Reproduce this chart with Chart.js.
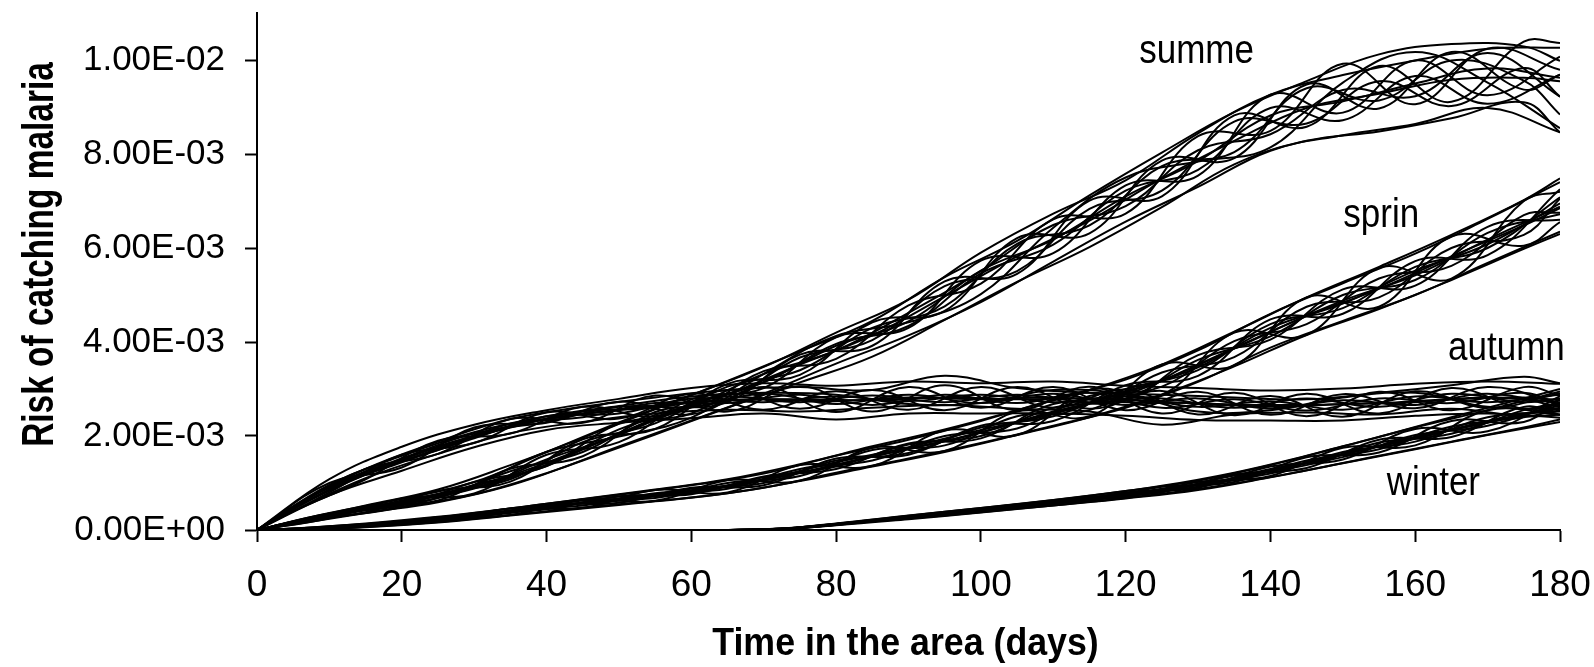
<!DOCTYPE html>
<html>
<head>
<meta charset="utf-8">
<title>Risk of catching malaria by season of arrival</title>
<script src="https://cdn.jsdelivr.net/npm/chart.js@4.4.1/dist/chart.umd.min.js"></script>
<style>
  html, body { margin: 0; padding: 0; background: #fff; }
  #wrap { width: 1594px; height: 667px; }
</style>
</head>
<body>
<div id="wrap"><canvas id="risk" width="1594" height="667"></canvas></div>
<script>
// Time axis samples (days). Half of the simulated runs are sampled on
// DAYS_A, the other half on DAYS_B (offset by five days).
const DAYS_A = [0,10,20,30,40,50,60,70,80,90,100,110,120,130,140,150,160,170,180];
const DAYS_B = [0,5,15,25,35,45,55,65,75,85,95,105,115,125,135,145,155,165,175,180];

// Axis ticks. Risk values are stored in thousandths (x 1E-03).
const X_TICKS = [0,20,40,60,80,100,120,140,160,180];
const Y_TICKS = [0,2,4,6,8,10];

// Cumulative risk runs (x 1E-03), arrival in summer
const SUMMER_A = [
  [0,.35,.52,1.02,1.36,2.26,2.48,3.38,3.64,4.78,5.24,6.61,6.73,8.38,8.49,9.92,9.06,10.24,9.79],
  [0,.26,.49,.96,1.66,1.99,2.39,3.32,4.13,4.42,5.02,6.43,7.50,7.84,8.14,9.52,10.17,9.52,8.55],
  [0,.31,.60,.88,1.50,2.02,2.66,3.15,3.92,4.44,5.52,6.18,7.10,7.85,8.82,9.12,9.50,9.82,9.62],
  [0,.36,.66,1.02,1.66,2.29,2.87,3.47,4.20,4.90,5.90,6.73,7.44,8.44,9.26,9.68,9.99,10.24,10.26],
  [0,.24,.49,.76,1.21,1.78,2.33,2.90,3.54,4.14,4.85,5.71,6.56,7.30,8.07,8.40,8.64,8.98,8.46],
  [0,.25,.67,.78,1.60,1.87,2.78,3.02,4.10,4.30,5.73,5.89,7.33,7.54,9.26,8.88,9.99,9.25,10.07],
  [0,.32,.55,.96,1.36,2.14,2.63,3.32,3.82,4.62,5.51,6.49,6.89,8.08,8.42,9.36,9.23,10.15,9.22],
  [0,.30,.63,.90,1.39,2.05,2.69,3.14,3.96,4.34,5.46,6.07,7.22,7.66,8.98,8.72,9.66,9.07,9.69]
];
const SUMMER_B = [
  [0,.17,.38,.83,1.03,1.93,2.15,3.11,3.30,4.42,4.66,6.21,6.31,7.86,7.91,9.48,8.97,10.17,9.37,9.69],
  [0,.14,.50,.63,1.30,1.57,2.51,2.72,3.73,3.92,5.29,5.45,7.01,7.10,8.82,8.58,9.87,9.11,10.39,10.36],
  [0,.15,.45,.73,1.16,1.73,2.35,2.88,3.52,4.14,4.97,5.82,6.58,7.48,8.28,8.98,9.28,9.58,9.62,9.55],
  [0,.13,.37,.59,.95,1.48,2.03,2.60,3.14,3.69,4.47,5.28,6.02,6.87,7.78,8.28,8.48,8.76,9.10,8.46],
  [0,.18,.52,.86,1.38,1.96,2.57,3.17,3.80,4.45,5.38,6.15,7.12,8.03,8.89,9.55,10.12,10.34,10.29,9.98],
  [0,.15,.48,.68,1.25,1.66,2.45,2.78,3.67,4.04,5.19,5.51,6.83,7.22,8.69,8.65,9.55,9.02,9.83,9.22],
  [0,.16,.42,.77,1.08,1.87,2.27,3.05,3.40,4.30,4.76,6.09,6.48,7.74,8.04,9.40,9.14,9.99,9.56,8.84]
];

// Arrival in spring
const SPRING_A = [
  [0,.06,.13,.34,.44,.72,.76,1.14,1.30,1.84,1.95,2.68,2.75,3.72,4.05,5.12,5.20,6.45,6.60],
  [0,.04,.18,.26,.54,.58,.90,.95,1.52,1.60,2.22,2.32,3.08,3.28,4.48,4.60,5.72,5.85,7.25],
  [0,.05,.15,.30,.48,.66,.81,1.06,1.39,1.73,2.07,2.52,2.88,3.52,4.22,4.88,5.42,6.18,6.88],
  [0,.07,.19,.36,.56,.75,.95,1.20,1.58,1.92,2.32,2.78,3.20,3.82,4.60,5.25,5.88,6.62,7.40],
  [0,.03,.11,.24,.40,.55,.69,.90,1.22,1.52,1.85,2.22,2.60,3.15,3.88,4.45,5.00,5.68,6.35],
  [0,.05,.16,.33,.46,.71,.78,1.12,1.35,1.82,2.00,2.60,2.80,3.62,4.12,5.00,5.32,6.32,6.72],
  [0,.05,.14,.28,.52,.62,.88,1.00,1.48,1.64,2.18,2.42,3.00,3.40,4.38,4.72,5.60,6.00,7.08],
  [0,.05,.16,.31,.50,.67,.84,1.08,1.44,1.76,2.13,2.47,2.95,3.46,4.30,4.82,5.52,6.08,6.95]
];
const SPRING_B = [
  [0,.03,.13,.18,.46,.47,.85,.80,1.38,1.36,2.12,2.02,2.98,2.88,4.20,4.15,5.58,5.35,7.00,7.20],
  [0,.01,.07,.27,.32,.65,.62,1.06,1.05,1.75,1.68,2.52,2.42,3.52,3.50,4.95,4.75,6.25,6.05,6.55],
  [0,.02,.10,.22,.39,.57,.72,.94,1.21,1.57,1.89,2.29,2.71,3.18,3.86,4.55,5.13,5.82,6.48,6.85],
  [0,.03,.14,.28,.46,.66,.86,1.08,1.40,1.78,2.14,2.55,2.98,3.52,4.22,4.95,5.60,6.28,7.02,7.48],
  [0,.01,.06,.16,.31,.46,.61,.78,1.04,1.35,1.66,2.02,2.40,2.88,3.48,4.15,4.70,5.32,5.98,6.30],
  [0,.02,.11,.25,.36,.63,.68,1.00,1.15,1.70,1.80,2.42,2.55,3.35,3.68,4.75,4.95,6.00,6.28,7.05],
  [0,.02,.09,.20,.42,.52,.78,.88,1.30,1.48,2.00,2.16,2.85,3.05,4.02,4.38,5.35,5.62,6.70,6.75]
];

// Arrival in autumn
const AUTUMN_A = [
  [0,1.00,1.33,2.18,2.28,2.73,2.46,3.04,2.51,3.04,2.60,3.04,2.55,2.94,2.45,2.89,2.59,3.04,2.67],
  [0,.80,1.60,1.85,2.50,2.37,2.90,2.56,2.95,2.56,3.04,2.60,2.99,2.46,2.85,2.41,2.95,2.60,2.91],
  [0,.90,1.46,1.98,2.36,2.56,2.72,2.78,2.74,2.82,2.78,2.82,2.72,2.70,2.62,2.68,2.72,2.82,2.72],
  [0,1.08,1.77,2.24,2.55,2.79,3.02,3.12,3.07,3.16,3.12,3.16,3.07,3.02,2.97,3.01,3.11,3.16,3.11],
  [0,.74,1.26,1.76,2.13,2.28,2.38,2.48,2.35,2.48,2.48,2.48,2.43,2.34,2.33,2.33,2.43,2.48,2.39],
  [0,.92,1.52,2.05,2.30,2.62,2.62,2.90,2.68,2.88,2.70,2.90,2.66,2.80,2.58,2.76,2.66,2.90,2.62],
  [0,.86,1.44,1.95,2.42,2.48,2.80,2.72,2.84,2.74,2.88,2.72,2.84,2.62,2.74,2.56,2.84,2.72,2.88],
  [0,.96,1.58,2.08,2.42,2.64,2.84,2.92,2.88,2.68,2.70,2.98,2.88,2.52,2.55,2.82,2.92,2.62,2.58]
];
const AUTUMN_B = [
  [0,.50,1.30,1.62,2.36,2.28,2.86,2.52,3.06,2.52,3.08,2.55,3.05,2.48,2.92,2.42,2.94,2.55,3.04,2.86],
  [0,.40,1.08,1.90,2.05,2.62,2.42,2.98,2.58,2.98,2.55,3.04,2.58,2.96,2.44,2.90,2.48,3.02,2.58,2.70],
  [0,.45,1.20,1.76,2.22,2.46,2.63,2.76,2.78,2.76,2.82,2.78,2.80,2.73,2.67,2.66,2.70,2.78,2.82,2.76],
  [0,.50,1.30,1.88,2.36,2.62,2.82,2.98,3.04,2.98,3.28,3.02,2.92,2.88,2.82,2.78,2.92,3.08,3.26,3.12],
  [0,.40,1.10,1.62,2.06,2.30,2.48,2.56,2.52,2.60,2.66,2.58,2.52,2.24,2.46,2.50,2.46,2.58,2.42,2.46],
  [0,.46,1.18,1.78,2.18,2.52,2.60,2.84,2.72,2.86,2.72,2.88,2.72,2.80,2.60,2.80,2.62,2.90,2.72,2.80],
  [0,.44,1.24,1.70,2.26,2.40,2.70,2.70,2.88,2.66,2.88,2.70,2.92,2.60,2.78,2.54,2.80,2.70,2.92,2.64]
];

// Arrival in winter
const WINTER_A = [
  [0,0,0,0,0,0,0,0,.13,.25,.45,.55,.80,.90,1.35,1.50,2.15,2.10,2.85],
  [0,0,0,0,0,0,0,0,.11,.29,.40,.62,.70,1.02,1.15,1.75,1.80,2.55,2.45],
  [0,0,0,0,0,0,0,0,.12,.27,.42,.58,.76,.95,1.24,1.62,1.94,2.32,2.58],
  [0,0,0,0,0,0,0,0,.14,.31,.47,.64,.83,1.05,1.38,1.78,2.18,2.55,2.95],
  [0,0,0,0,0,0,0,0,.10,.23,.37,.52,.67,.85,1.12,1.42,1.72,2.02,2.30],
  [0,0,0,0,0,0,0,0,.12,.28,.43,.57,.78,.92,1.30,1.55,2.02,2.22,2.70],
  [0,0,0,0,0,0,0,0,.12,.26,.41,.60,.72,.98,1.20,1.66,1.88,2.40,2.52],
  [0,0,0,0,0,0,0,0,.13,.27,.44,.58,.77,.96,1.27,1.60,1.98,2.28,2.65]
];
const WINTER_B = [
  [0,0,0,0,0,0,0,0,.05,.21,.33,.54,.62,.92,1.02,1.55,1.65,2.32,2.30,2.80],
  [0,0,0,0,0,0,0,0,.05,.19,.37,.47,.70,.80,1.18,1.32,1.92,1.98,2.62,2.45],
  [0,0,0,0,0,0,0,0,.05,.20,.35,.50,.66,.86,1.10,1.43,1.78,2.12,2.46,2.60],
  [0,0,0,0,0,0,0,0,.06,.22,.39,.55,.73,.94,1.22,1.58,1.98,2.40,2.80,3.00],
  [0,0,0,0,0,0,0,0,.04,.18,.31,.45,.60,.77,.99,1.27,1.58,1.88,2.18,2.35],
  [0,0,0,0,0,0,0,0,.05,.20,.36,.49,.69,.82,1.16,1.38,1.86,2.05,2.55,2.70],
  [0,0,0,0,0,0,0,0,.05,.21,.34,.51,.64,.88,1.06,1.48,1.72,2.20,2.40,2.55]
];

// Season names written next to each bundle of runs
const SEASON_NAMES = ['summe', 'sprin', 'autumn', 'winter'];

const FONT = '"Liberation Sans", Arial, Helvetica, sans-serif';

function runsToDatasets(runs, days, season) {
  return runs.map((vals, i) => ({
    label: season + ' run ' + (i + 1),
    data: vals.map((v, k) => ({ x: days[k], y: v })),
    borderColor: '#000',
    borderWidth: 2,
    pointRadius: 0,
    tension: 0.4,
    fill: false
  }));
}

const datasets = [].concat(
  runsToDatasets(SUMMER_A, DAYS_A, 'summer'),
  runsToDatasets(SUMMER_B, DAYS_B, 'summer'),
  runsToDatasets(SPRING_A, DAYS_A, 'spring'),
  runsToDatasets(SPRING_B, DAYS_B, 'spring'),
  runsToDatasets(AUTUMN_A, DAYS_A, 'autumn'),
  runsToDatasets(AUTUMN_B, DAYS_B, 'autumn'),
  runsToDatasets(WINTER_A, DAYS_A, 'winter'),
  runsToDatasets(WINTER_B, DAYS_B, 'winter')
);

// Thousandths -> "2.00E-03" style labels
function sciLabel(v) {
  const s = (v * 1e-3).toExponential(2).toUpperCase();
  const parts = s.split('E');
  const e = parseInt(parts[1], 10);
  return parts[0] + 'E' + (e < 0 ? '-' : '+') + String(Math.abs(e)).padStart(2, '0');
}

// Keep the plot area fixed: no extra room reserved for overhanging tick labels
function noLabelPadding(scale) {
  scale.paddingLeft = 0;
  scale.paddingRight = 0;
  scale.paddingTop = 0;
  scale.paddingBottom = 0;
}

// Season names and axis titles, anchored through the chart scales
const textPlugin = {
  id: 'seasonText',
  afterDraw(chart) {
    const { ctx, scales } = chart;
    const xs = scales.x, ys = scales.y;
    // [day, risk (x1E-03)] of the centre/baseline of each season name
    const anchors = [[129.8, 9.94], [155.3, 6.45], [172.6, 3.62], [162.5, 0.745]];
    ctx.save();
    ctx.fillStyle = '#000';
    ctx.textAlign = 'center';
    ctx.textBaseline = 'alphabetic';
    ctx.font = '40px ' + FONT;
    SEASON_NAMES.forEach((name, i) => {
      ctx.save();
      ctx.translate(xs.getPixelForValue(anchors[i][0]), ys.getPixelForValue(anchors[i][1]));
      ctx.scale(0.875, 1);
      ctx.fillText(name, 0, 0);
      ctx.restore();
    });

    // x-axis title
    ctx.save();
    ctx.font = 'bold 38px ' + FONT;
    ctx.translate((xs.left + xs.right) / 2 - 3, 655);
    ctx.scale(0.94, 1);
    ctx.fillText('Time in the area (days)', 0, 0);
    ctx.restore();

    // y-axis title
    ctx.save();
    ctx.font = 'bold 44px ' + FONT;
    ctx.translate(53, 254.5);
    ctx.rotate(-Math.PI / 2);
    ctx.scale(0.76, 1);
    ctx.fillText('Risk of catching malaria', 0, 0);
    ctx.restore();
    ctx.restore();
  }
};

new Chart(document.getElementById('risk'), {
  type: 'line',
  data: { datasets },
  plugins: [textPlugin],
  options: {
    responsive: false,
    animation: false,
    events: [],
    layout: { padding: { top: 13, right: 34, bottom: 0, left: 0 } },
    plugins: { legend: { display: false }, tooltip: { enabled: false } },
    scales: {
      x: {
        type: 'linear',
        min: 0,
        max: 180,
        afterBuildTicks(scale) { scale.ticks = X_TICKS.map(v => ({ value: v })); },
        afterFit(scale) { scale.height = 137; noLabelPadding(scale); },
        grid: { drawOnChartArea: false, drawTicks: true, tickLength: 12, tickWidth: 2, tickColor: '#000' },
        border: { display: true, color: '#000', width: 2 },
        ticks: {
          color: '#000',
          padding: 22,
          maxRotation: 0,
          autoSkip: false,
          font: { family: FONT, size: 37 },
          callback: v => String(v)
        },
        title: { display: false }
      },
      y: {
        type: 'linear',
        min: 0,
        max: 11,
        afterBuildTicks(scale) { scale.ticks = Y_TICKS.map(v => ({ value: v })); },
        afterFit(scale) { scale.width = 257; noLabelPadding(scale); },
        grid: { drawOnChartArea: false, drawTicks: true, tickLength: 12, tickWidth: 2, tickColor: '#000' },
        border: { display: true, color: '#000', width: 2 },
        ticks: {
          color: '#000',
          padding: 20,
          autoSkip: false,
          font: { family: FONT, size: 35 },
          callback: v => sciLabel(v)
        },
        title: { display: false }
      }
    }
  }
});
</script>
</body>
</html>
